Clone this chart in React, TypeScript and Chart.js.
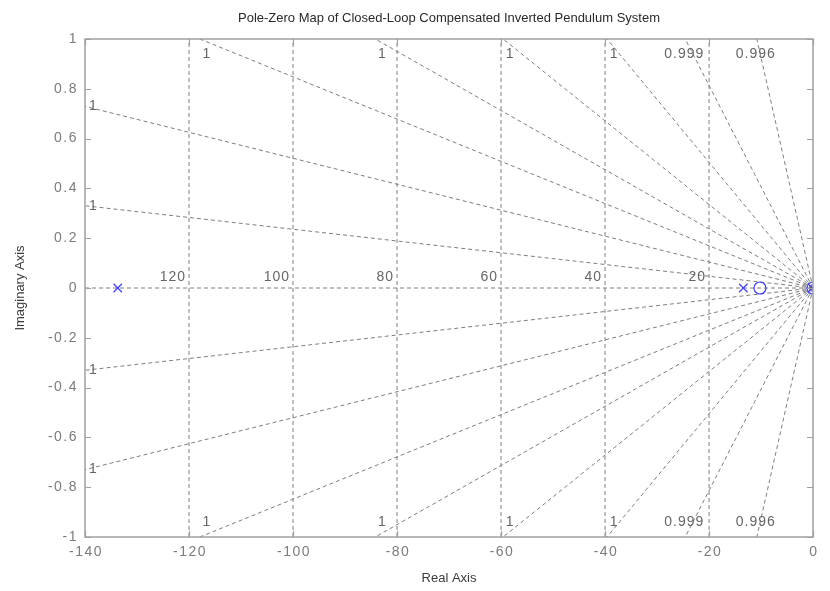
import React, { useEffect, useRef } from "react";
import { Chart, registerables } from "chart.js";
Chart.register(...registerables);

const chartTitle = "Pole-Zero Map of Closed-Loop Compensated Inverted Pendulum System";
const xAxisLabel = "Real Axis";
const yAxisLabel = "Imaginary Axis";
const xTicks = [-140, -120, -100, -80, -60, -40, -20, 0];
const xTickLabels = ["-140", "-120", "-100", "-80", "-60", "-40", "-20", "0"];
const yTicks = [-1, -0.8, -0.6, -0.4, -0.2, 0, 0.2, 0.4, 0.6, 0.8, 1];
const yTickLabels = ["-1", "-0.8", "-0.6", "-0.4", "-0.2", "0", "0.2", "0.4", "0.6", "0.8", "1"];
const poleReal = [-133.7, -13.4, -0.15];
const poleImag = [0, 0, 0];
const zeroReal = [-10.2, 0];
const zeroImag = [0, 0];
const naturalFreqs = [120, 100, 80, 60, 40, 20];
const naturalFreqLabels = ["120", "100", "80", "60", "40", "20"];
// slope (imag / -real) of each constant-damping ray in the upper half plane
const dampingSlopes = [0.00236, 0.00521, 0.00848, 0.01188, 0.01678, 0.02525, 0.0407, 0.0926];

const X_MIN = -140, X_MAX = 0, Y_MIN = -1, Y_MAX = 1;
const GRID_COLOR = "#7e7e7e";
const AXIS_COLOR = "#a0a0a0";
const TICK_TEXT = "#7c7c7c";
const FONT = "'Liberation Sans', Arial, sans-serif";

function dampingEnd(s: number, sign: number) {
  const xEdge = -1 / s;
  if (xEdge < X_MIN) return { x: X_MIN, y: sign * (-X_MIN) * s, edge: "side" };
  return { x: xEdge, y: sign * 1, edge: "tb" };
}

function zetaLabel(s: number) {
  const z = 1 / Math.sqrt(1 + s * s);
  return String(parseFloat(z.toPrecision(3)));
}

export default function App() {
  const ref = useRef<HTMLCanvasElement | null>(null);
  useEffect(() => {
    if (!ref.current) return;
    const gridSets: any[] = [];
    const lineStyle = {
      showLine: true,
      borderColor: GRID_COLOR,
      borderWidth: 1,
      borderDash: [4, 3],
      pointRadius: 0,
      pointHoverRadius: 0,
      fill: false,
      tension: 0,
      order: 2,
    };
    // real axis (zeta = 1)
    gridSets.push({ ...lineStyle, data: [{ x: X_MIN, y: 0 }, { x: X_MAX, y: 0 }] });
    // natural frequency arcs
    naturalFreqs.forEach((wn) => {
      const pts: { x: number; y: number }[] = [];
      for (let i = 0; i <= 20; i++) {
        const y = Y_MIN + (i * (Y_MAX - Y_MIN)) / 20;
        pts.push({ x: -Math.sqrt(wn * wn - y * y), y });
      }
      gridSets.push({ ...lineStyle, data: pts });
    });
    // damping rays
    dampingSlopes.forEach((s) => {
      [1, -1].forEach((sign) => {
        const e = dampingEnd(s, sign);
        gridSets.push({ ...lineStyle, data: [{ x: 0, y: 0 }, { x: e.x, y: e.y }] });
      });
    });

    const labelPlugin = {
      id: "pzLabels",
      afterDatasetsDraw(chart: any) {
        const ctx = chart.ctx;
        const xs = chart.scales.x;
        const ys = chart.scales.y;
        ctx.save();
        ctx.fillStyle = "#666";
        ctx.font = `14px ${FONT}`;
        (ctx as any).letterSpacing = "1px";
        ctx.textBaseline = "middle";
        // damping labels
        dampingSlopes.forEach((s) => {
          const lab = zetaLabel(s);
          [1, -1].forEach((sign) => {
            const e = dampingEnd(s, sign);
            const px = xs.getPixelForValue(e.x);
            const py = ys.getPixelForValue(e.y);
            if (e.edge === "side") {
              ctx.textAlign = "left";
              ctx.fillText(lab, px + 4, py);
            } else {
              ctx.textAlign = "center";
              ctx.fillText(lab, px + (lab.length === 1 ? 7 : -1), py + (sign > 0 ? 15 : -15));
            }
          });
        });
        // natural frequency labels
        ctx.textAlign = "right";
        naturalFreqs.forEach((wn, i) => {
          const px = xs.getPixelForValue(-wn);
          const py = ys.getPixelForValue(0);
          ctx.fillText(naturalFreqLabels[i], px - 3, py - 11);
        });
        ctx.restore();
      },
      afterDraw(chart: any) {
        const ctx = chart.ctx;
        const xs = chart.scales.x;
        const ys = chart.scales.y;
        const a = chart.chartArea;
        ctx.save();
        // box
        ctx.strokeStyle = AXIS_COLOR;
        ctx.lineWidth = 1.5;
        ctx.strokeRect(a.left, a.top, a.right - a.left, a.bottom - a.top);
        // ticks
        ctx.lineWidth = 1.2;
        ctx.beginPath();
        xTicks.forEach((t) => {
          const px = Math.round(xs.getPixelForValue(t)) + 0.5;
          ctx.moveTo(px, a.bottom); ctx.lineTo(px, a.bottom - 6);
          ctx.moveTo(px, a.top); ctx.lineTo(px, a.top + 6);
        });
        yTicks.forEach((t) => {
          const py = Math.round(ys.getPixelForValue(t)) + 0.5;
          ctx.moveTo(a.left, py); ctx.lineTo(a.left + 6, py);
          ctx.moveTo(a.right, py); ctx.lineTo(a.right - 6, py);
        });
        ctx.stroke();
        // tick labels
        ctx.fillStyle = TICK_TEXT;
        ctx.font = `14px ${FONT}`;
        (ctx as any).letterSpacing = "1.5px";
        ctx.textBaseline = "middle";
        ctx.textAlign = "center";
        xTicks.forEach((t, i) => {
          ctx.fillText(xTickLabels[i], xs.getPixelForValue(t) + 1, a.bottom + 15);
        });
        ctx.textAlign = "right";
        yTicks.forEach((t, i) => {
          ctx.fillText(yTickLabels[i], a.left - 7, ys.getPixelForValue(t));
        });
        // titles
        (ctx as any).letterSpacing = "0px";
        ctx.fillStyle = "#2a2a2a";
        ctx.font = `13px ${FONT}`;
        ctx.textAlign = "center";
        const cx = (a.left + a.right) / 2;
        ctx.fillText(chartTitle, cx, 18);
        ctx.fillStyle = "#3a3a3a";
        ctx.fillText(xAxisLabel, cx, 578);
        ctx.translate(20, (a.top + a.bottom) / 2);
        ctx.rotate(-Math.PI / 2);
        ctx.fillText(yAxisLabel, 0, 0);
        ctx.restore();
      },
    };

    const chart = new Chart(ref.current, {
      type: "scatter",
      data: {
        datasets: [
          {
            data: poleReal.map((x, i) => ({ x, y: poleImag[i] })),
            pointStyle: "crossRot",
            pointRadius: 6,
            borderColor: "#3c3cff",
            borderWidth: 1.2,
            backgroundColor: "transparent",
            order: 0,
          },
          {
            data: zeroReal.map((x, i) => ({ x, y: zeroImag[i] })),
            pointStyle: "circle",
            pointRadius: 6,
            borderColor: "#3c3cff",
            borderWidth: 1.2,
            backgroundColor: "transparent",
            order: 0,
          },
          ...gridSets,
        ],
      },
      options: {
        animation: false,
        responsive: true,
        maintainAspectRatio: false,
        events: [],
        layout: { padding: { top: 39, right: 17, left: 0, bottom: 0 } },
        plugins: { legend: { display: false }, tooltip: { enabled: false }, title: { display: false } },
        scales: {
          x: {
            type: "linear",
            min: X_MIN,
            max: X_MAX,
            ticks: { display: false },
            grid: { display: false, drawTicks: false },
            border: { display: false },
            afterFit: (s: any) => { s.height = 54; },
          },
          y: {
            type: "linear",
            min: Y_MIN,
            max: Y_MAX,
            ticks: { display: false },
            grid: { display: false, drawTicks: false },
            border: { display: false },
            afterFit: (s: any) => { s.width = 85; },
          },
        },
      },
      plugins: [labelPlugin],
    } as any);
    return () => chart.destroy();
  }, []);
  return (
    <div style={{ position: "fixed", left: 0, top: 0, width: 830, height: 591, background: "#fff" }}>
      <canvas ref={ref} />
    </div>
  );
}
